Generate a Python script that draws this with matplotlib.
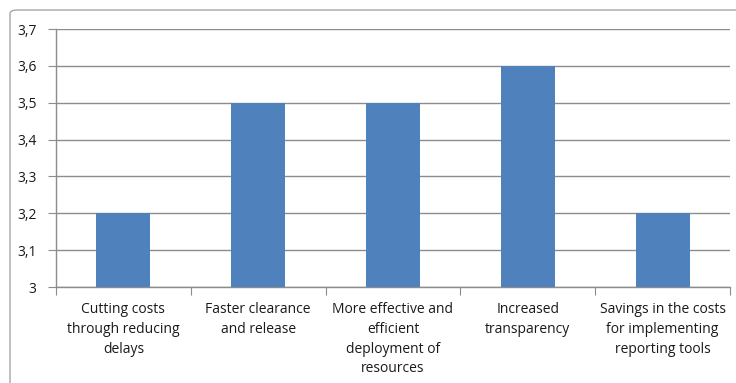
import matplotlib
matplotlib.use("Agg")
import matplotlib.pyplot as plt
from matplotlib.patches import FancyBboxPatch
from matplotlib.ticker import FuncFormatter, FixedLocator
import numpy as np

categories = [
    "Cutting costs\nthrough reducing\ndelays",
    "Faster clearance\nand release",
    "More effective and\nefficient\ndeployment of\nresources",
    "Increased\ntransparency",
    "Savings in the costs\nfor implementing\nreporting tools",
]
values = [3.2, 3.5, 3.5, 3.6, 3.2]
y_ticks = [3.0, 3.1, 3.2, 3.3, 3.4, 3.5, 3.6, 3.7]

W, H, DPI = 736, 383, 100
plt.rcParams["font.family"] = ["Open Sans", "DejaVu Sans"]

fig = plt.figure(figsize=(W / DPI, H / DPI), dpi=DPI)

# outer chart frame (rounded, continues past right and bottom edges)
frame = FancyBboxPatch((10 / W, -20 / H), (W + 20) / W, (H - 10 + 20) / H,
                       boxstyle="round,pad=0,rounding_size=0.01",
                       transform=fig.transFigure, facecolor="white",
                       edgecolor="#a6a6a6", linewidth=1.0, zorder=-5)
fig.patches.append(frame)

ax = fig.add_axes([56 / W, 1 - 287 / H, (730 - 56) / W, (287 - 29) / H])
ax.set_facecolor("none")
ax.set_zorder(2)

x = np.arange(len(categories))
ax.bar(x, np.array(values) - 3.0, bottom=3.0, width=0.4, color="#4F81BD", zorder=3)

ax.set_xlim(-0.5, len(categories) - 0.5)
ax.set_ylim(3.0, 3.7)
ax.yaxis.set_major_locator(FixedLocator(y_ticks))
ax.yaxis.set_major_formatter(FuncFormatter(
    lambda v, _: "3" if abs(v - 3.0) < 1e-9 else f"{v:.1f}".replace(".", ",")))
ax.grid(axis="y", color="#8c8c8c", linewidth=1.0, zorder=1)
ax.set_axisbelow(True)

# category boundary ticks on x axis
ax.set_xticks(np.arange(len(categories) + 1) - 0.5)
ax.set_xticklabels([])
ax.set_xticks(x, minor=True)
ax.set_xticklabels(categories, minor=True, fontsize=10, color="#1a1a1a",
                   linespacing=1.42, va="top")
ax.tick_params(axis="x", which="major", length=6, color="#8c8c8c", direction="out")
ax.tick_params(axis="x", which="minor", length=0, pad=11)
ax.tick_params(axis="y", length=6, color="#8c8c8c", labelsize=10,
               labelcolor="#1a1a1a", pad=8)

for side in ("top", "right"):
    ax.spines[side].set_visible(False)
for side in ("left", "bottom"):
    ax.spines[side].set_color("#8c8c8c")
    ax.spines[side].set_linewidth(1.0)

fig.savefig("out.png", dpi=DPI)
